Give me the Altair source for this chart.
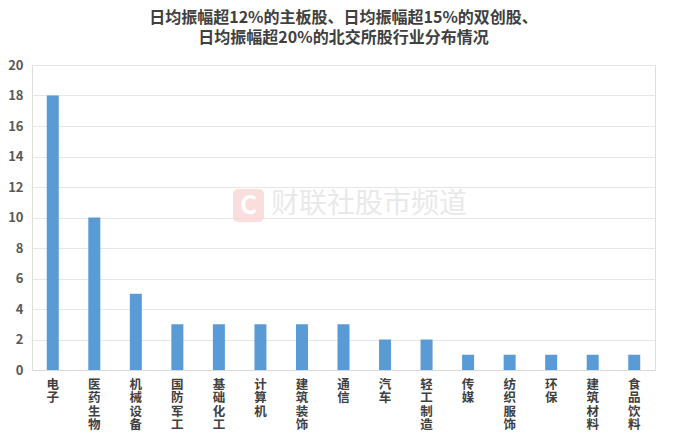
import altair as alt
import pandas as pd

categories = ["电子", "医药生物", "机械设备", "国防军工", "基础化工", "计算机", "建筑装饰",
              "通信", "汽车", "轻工制造", "传媒", "纺织服饰", "环保", "建筑材料", "食品饮料"]
counts = [18, 10, 5, 3, 3, 3, 3, 3, 2, 2, 1, 1, 1, 1, 1]
y_ticks = [0, 2, 4, 6, 8, 10, 12, 14, 16, 18, 20]
title_lines = ["日均振幅超12%的主板股、日均振幅超15%的双创股、", "日均振幅超20%的北交所股行业分布情况"]
watermark_text = "财联社股市频道"

df = pd.DataFrame({"行业": categories, "数量": counts})
wm = pd.DataFrame({"t": [watermark_text]})

FONT = "Noto Sans CJK SC"

bars = alt.Chart(df).mark_bar(color="#5B9BD5", size=12).encode(
    x=alt.X("行业:N", sort=categories,
            scale=alt.Scale(paddingInner=0.71, paddingOuter=0.355),
            axis=alt.Axis(title=None, labelAngle=0, ticks=False, domain=True,
                          domainColor="#D9D9D9", labelExpr="split(datum.label, '')",
                          labelFont=FONT, labelFontSize=12.5, labelFontWeight="bold",
                          labelColor="#404040", labelLineHeight=13.5, labelPadding=8,
                          labelOverlap=False, labelBaseline="top")),
    y=alt.Y("数量:Q", scale=alt.Scale(domain=[0, 20], nice=False),
            axis=alt.Axis(title=None, values=y_ticks, ticks=False, domain=False,
                          gridColor="#E6E6E6", labelFont=FONT, labelFontSize=13,
                          labelFontWeight="bold", labelColor="#595959", labelPadding=9)),
)

logo_box = alt.Chart(wm).mark_rect(color="#F9D6D6", cornerRadius=5, opacity=0.8).encode(
    x=alt.value(201), x2=alt.value(232), y=alt.value(124), y2=alt.value(157))
logo_c = alt.Chart(wm).mark_text(text="C", color="#FFFFFF", font=FONT, fontSize=26,
                                 fontWeight="bold", align="center", baseline="middle").encode(
    x=alt.value(216.5), y=alt.value(140.5))
wm_text = alt.Chart(wm).mark_text(color="#E9E9E9", font=FONT, fontSize=28,
                                  align="left", baseline="middle").encode(
    text="t:N", x=alt.value(239), y=alt.value(140))

chart = alt.layer(bars, logo_box, logo_c, wm_text).properties(
    width=623, height=305,
    autosize=alt.AutoSizeParams(type="none"),
    padding={"left": 24, "top": 57, "right": 29, "bottom": 66},
    title=alt.TitleParams(text=title_lines, font=FONT, fontSize=16, fontWeight="bold",
                          color="#404040", anchor="middle", offset=13, lineHeight=20),
).configure_view(stroke=None).configure(background="white")

chart.save("out.html", embed_options={"renderer": "svg", "actions": False})
